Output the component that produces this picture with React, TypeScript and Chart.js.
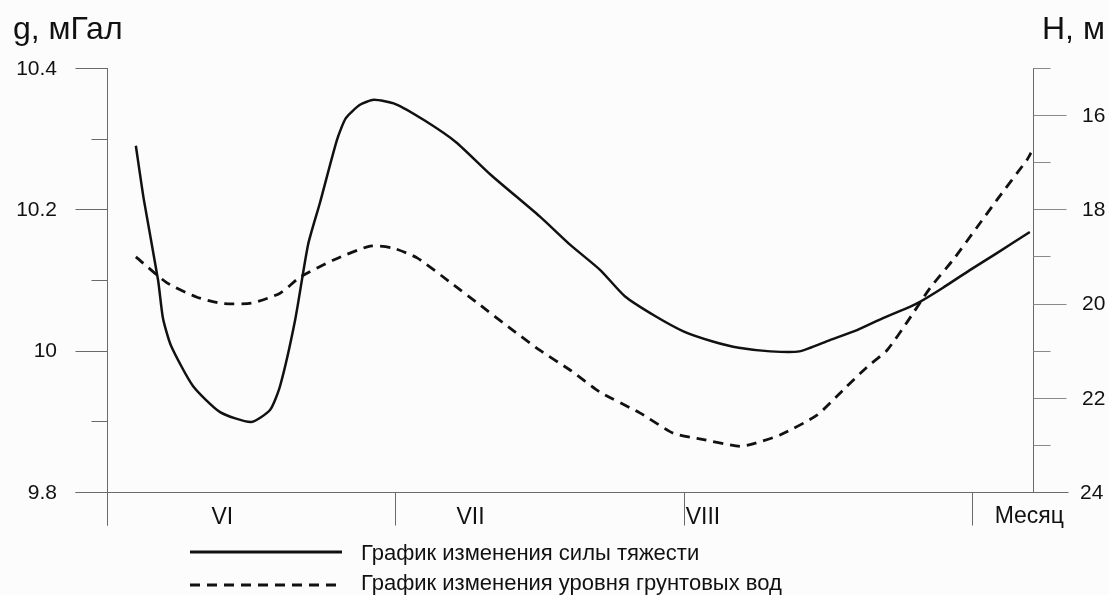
import React, { useEffect, useRef } from "react";
import { Chart, registerables } from "chart.js";

Chart.register(...registerables);

// Month positions (in months from start of June)
const monthBounds = [0, 1, 2, 3];
const monthLabels = ["VI", "VII", "VIII"];
const monthLabelPos = [0.4, 1.26, 2.066];

// Gravity series (g, мГал)
const gravityX = [0.1, 0.128, 0.177, 0.194, 0.222, 0.298, 0.392, 0.499, 0.565, 0.6, 0.652, 0.697, 0.738, 0.797, 0.828, 0.877, 0.925, 1.0, 1.1, 1.21, 1.33, 1.5, 1.605, 1.71, 1.795, 1.9, 2.0, 2.1, 2.19, 2.3, 2.4, 2.506, 2.6, 2.69, 2.783, 2.818, 2.898, 2.991, 3.085, 3.199];
const gravityY = [10.29, 10.213, 10.1, 10.046, 10.007, 9.95, 9.913, 9.899, 9.916, 9.95, 10.043, 10.15, 10.209, 10.298, 10.329, 10.348, 10.355, 10.349, 10.326, 10.295, 10.249, 10.19, 10.15, 10.114, 10.077, 10.049, 10.027, 10.013, 10.004, 9.999, 9.999, 10.015, 10.029, 10.046, 10.062, 10.069, 10.089, 10.114, 10.138, 10.168];

// Groundwater level series (H, м)
const waterX = [0.1, 0.208, 0.31, 0.4, 0.502, 0.6, 0.669, 0.783, 0.912, 0.99, 1.075, 1.19, 1.293, 1.397, 1.5, 1.605, 1.709, 1.847, 1.962, 2.045, 2.194, 2.239, 2.333, 2.461, 2.551, 2.634, 2.704, 2.773, 2.853, 2.932, 3.016, 3.085, 3.189, 3.203];
const waterY = [19.01, 19.56, 19.86, 20.0, 19.99, 19.78, 19.44, 19.08, 18.78, 18.82, 19.03, 19.55, 20.03, 20.52, 20.99, 21.41, 21.88, 22.32, 22.75, 22.86, 23.03, 22.98, 22.79, 22.37, 21.84, 21.35, 20.99, 20.4, 19.67, 19.08, 18.38, 17.8, 16.95, 16.8];

const gTicks = [9.8, 9.9, 10.0, 10.1, 10.2, 10.3, 10.4];
const gTickLabels = ["9.8", "", "10", "", "10.2", "", "10.4"];
const hTicks = [15, 16, 17, 18, 19, 20, 21, 22, 23, 24];
const hTickLabels = ["", "16", "", "18", "", "20", "", "22", "", "24"];

const titleLeft = "g, мГал";
const titleRight = "H, м";
const xAxisName = "Месяц";
const legendLabels = ["График изменения силы тяжести", "График изменения уровня грунтовых вод"];

const FONT = "'Liberation Sans', Arial, sans-serif";

const axesPlugin = {
  id: "customAxes",
  beforeDraw(chart: any) {
    const ctx = chart.ctx;
    ctx.save();
    ctx.fillStyle = "#fcfcfc";
    ctx.fillRect(0, 0, chart.width, chart.height);
    ctx.restore();
  },
  beforeDatasetsDraw(chart: any) {
    const ctx = chart.ctx;
    const { left, right, top, bottom } = chart.chartArea;
    const xS = chart.scales.x;
    const gS = chart.scales.yG;
    const hS = chart.scales.yH;
    ctx.save();
    ctx.lineWidth = 1;
    ctx.strokeStyle = "#6a6a6a";
    const line = (x1: number, y1: number, x2: number, y2: number) => {
      ctx.beginPath();
      ctx.moveTo(x1, y1);
      ctx.lineTo(x2, y2);
      ctx.stroke();
    };
    const L = Math.round(left) + 0.5;
    const R = Math.round(right) + 0.5;
    const B = Math.round(bottom) + 0.5;
    // left axis
    line(L, top, L, B + 33);
    // right axis
    line(R, top, R, B);
    // bottom axis
    line(L - 32, B, R + 35, B);
    // month separators
    monthBounds.forEach((m) => {
      const px = Math.round(xS.getPixelForValue(m)) + 0.5;
      line(px, B, px, B + 33);
    });
    // left ticks
    gTicks.forEach((v, i) => {
      const py = Math.round(gS.getPixelForValue(v)) + 0.5;
      const len = gTickLabels[i] ? 32 : 16;
      line(L - len, py, L, py);
    });
    // right ticks
    ctx.strokeStyle = "#8a8a8a";
    hTicks.forEach((v, i) => {
      if (v === 24) return;
      const py = Math.round(hS.getPixelForValue(v)) + 0.5;
      const len = hTickLabels[i] ? 33 : 17;
      line(R, py, R + len, py);
    });
    ctx.restore();
  },
  afterDraw(chart: any) {
    const ctx = chart.ctx;
    const { left, right, bottom } = chart.chartArea;
    const xS = chart.scales.x;
    const gS = chart.scales.yG;
    const hS = chart.scales.yH;
    ctx.save();
    ctx.fillStyle = "#111";
    // titles
    ctx.font = `32px ${FONT}`;
    ctx.textBaseline = "alphabetic";
    ctx.textAlign = "left";
    ctx.fillText(titleLeft, 13, 39);
    ctx.fillText(titleRight, 1042, 39);
    // left tick labels
    ctx.font = `21px ${FONT}`;
    ctx.textBaseline = "middle";
    ctx.textAlign = "right";
    gTicks.forEach((v, i) => {
      if (!gTickLabels[i]) return;
      ctx.fillText(gTickLabels[i], left - 50, gS.getPixelForValue(v) + 1);
    });
    // right tick labels
    ctx.textAlign = "left";
    hTicks.forEach((v, i) => {
      if (!hTickLabels[i]) return;
      ctx.fillText(hTickLabels[i], right + (v === 24 ? 47 : 49), hS.getPixelForValue(v) + 1);
    });
    // month labels
    ctx.font = `23px ${FONT}`;
    ctx.textAlign = "center";
    ctx.textBaseline = "alphabetic";
    monthLabels.forEach((lab, i) => {
      ctx.fillText(lab, xS.getPixelForValue(monthLabelPos[i]), bottom + 32);
    });
    ctx.textAlign = "right";
    ctx.fillText(xAxisName, right + 31, bottom + 31);
    // legend
    const lx1 = 190;
    const lx2 = 342;
    const ly = [552, 585];
    ctx.strokeStyle = "#111";
    ctx.lineWidth = 3;
    ctx.beginPath();
    ctx.moveTo(lx1, ly[0]);
    ctx.lineTo(lx2, ly[0]);
    ctx.stroke();
    ctx.setLineDash([10, 7]);
    ctx.beginPath();
    ctx.moveTo(lx1, ly[1]);
    ctx.lineTo(lx2, ly[1]);
    ctx.stroke();
    ctx.setLineDash([]);
    ctx.font = `22px ${FONT}`;
    ctx.textAlign = "left";
    ctx.textBaseline = "alphabetic";
    ctx.fillText(legendLabels[0], 361, 560);
    ctx.fillText(legendLabels[1], 361, 590);
    ctx.restore();
  },
};

export default function App() {
  const canvasRef = useRef<HTMLCanvasElement | null>(null);
  useEffect(() => {
    document.body.style.margin = "0";
    const canvas = canvasRef.current;
    if (!canvas) return;
    const chart = new Chart(canvas, {
      type: "line",
      data: {
        datasets: [
          {
            label: legendLabels[0],
            data: gravityX.map((x, i) => ({ x, y: gravityY[i] })),
            yAxisID: "yG",
            borderColor: "#111",
            borderWidth: 2.5,
            pointRadius: 0,
            tension: 0.2,
            fill: false,
          },
          {
            label: legendLabels[1],
            data: waterX.map((x, i) => ({ x, y: waterY[i] })),
            yAxisID: "yH",
            borderColor: "#111",
            borderWidth: 2.8,
            borderDash: [10, 7],
            pointRadius: 0,
            tension: 0.2,
            fill: false,
          },
        ],
      },
      options: {
        responsive: false,
        animation: false,
        devicePixelRatio: 1,
        layout: { padding: { left: 107, right: 76, top: 68, bottom: 103 } },
        plugins: { legend: { display: false }, tooltip: { enabled: false } },
        scales: {
          x: { type: "linear", min: 0, max: 3.21, display: false },
          yG: { type: "linear", min: 9.8, max: 10.4, display: false },
          yH: { type: "linear", min: 15, max: 24, reverse: true, display: false },
        },
      },
      plugins: [axesPlugin],
    });
    return () => chart.destroy();
  }, []);
  return (
    <div style={{ width: 1109, height: 595 }}>
      <canvas ref={canvasRef} width={1109} height={595} style={{ display: "block" }} />
    </div>
  );
}
